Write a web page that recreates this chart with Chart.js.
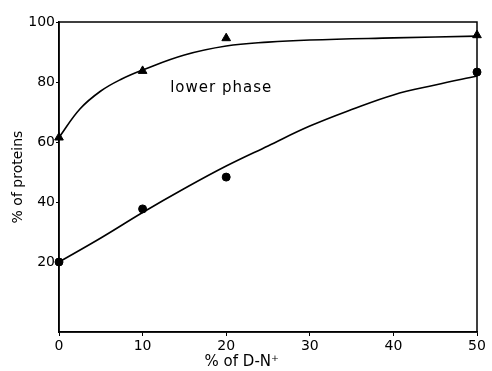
<!DOCTYPE html>
<html lang="en">

<head>
  <meta charset="UTF-8">
  <title>% of proteins vs % of D-N+</title>
  <script src="https://cdn.jsdelivr.net/npm/chart.js"></script>
  <style>
    body { margin: 0; background: #fff; }
    #wrap { width: 492px; height: 371px; }
  </style>
</head>

<body>
  <div id="wrap"><canvas id="phaseChart" width="492" height="371"></canvas></div>

  <script>
    // measured points
    const dnPercent = [0, 10, 20, 50];
    const triangleValues = [61.5, 83.7, 94.6, 95.6];
    const circleValues = [20, 37.7, 48.3, 83.3];

    // hand-drawn fitted curves
    const curveX = [0, 2.5, 5, 7.5, 10, 15, 20, 25, 30, 40, 50];
    const upperCurve = [61.5, 71, 77, 81, 84, 89, 92, 93.3, 94, 94.7, 95.3];
    const lowerCurveX = [0, 5, 10, 15, 20, 25, 30, 35, 40, 45, 50];
    const lowerCurve = [20, 28, 36.5, 44.5, 52, 58.7, 65.3, 70.8, 75.7, 79, 82];

    const yTicks = [20, 40, 60, 80, 100];
    const phaseLabel = 'lower phase';

    const font = { family: 'DejaVu Sans', size: 14 };

    const pairs = (xs, ys) => xs.map((x, i) => ({ x: x, y: ys[i] }));

    // frame around the plot + the in-plot label
    const framePlugin = {
      id: 'frame',
      afterDraw(chart) {
        const { ctx, chartArea: a, scales } = chart;
        ctx.save();
        ctx.strokeStyle = '#000';
        ctx.lineWidth = 1.5;
        ctx.strokeRect(a.left, a.top, a.right - a.left, a.bottom - a.top);
        ctx.fillStyle = '#000';
        ctx.font = '15px "DejaVu Sans"';
        ctx.letterSpacing = '1px';
        ctx.textBaseline = 'middle';
        ctx.fillText(phaseLabel, scales.x.getPixelForValue(13.3), scales.y.getPixelForValue(78));
        ctx.restore();
      }
    };

    new Chart(document.getElementById('phaseChart'), {
      type: 'scatter',
      data: {
        datasets: [
          {
            type: 'line',
            data: pairs(curveX, upperCurve),
            borderColor: '#000',
            borderWidth: 1.6,
            pointRadius: 0,
            tension: 0.4,
            fill: false
          },
          {
            type: 'line',
            data: pairs(lowerCurveX, lowerCurve),
            borderColor: '#000',
            borderWidth: 1.6,
            pointRadius: 0,
            tension: 0.4,
            fill: false
          },
          {
            data: pairs(dnPercent, triangleValues),
            pointStyle: 'triangle',
            pointRadius: 5,
            backgroundColor: '#000',
            borderColor: '#000'
          },
          {
            data: pairs(dnPercent, circleValues),
            pointStyle: 'circle',
            pointRadius: 4,
            backgroundColor: '#000',
            borderColor: '#000'
          }
        ]
      },
      options: {
        responsive: false,
        animation: false,
        clip: false,
        layout: { padding: { left: 0, top: 22, right: 15, bottom: 0 } },
        plugins: { legend: { display: false }, tooltip: { enabled: false } },
        scales: {
          x: {
            min: 0,
            max: 50,
            ticks: { stepSize: 10, color: '#000', font: font, padding: 2, maxRotation: 0 },
            grid: { drawOnChartArea: false, drawTicks: true, tickLength: 4, color: '#000' },
            border: { color: '#000', width: 1.5 },
            title: {
              display: true,
              text: '% of D-N\u207A           ',
              color: '#000',
              font: { family: 'DejaVu Sans', size: 15 },
              padding: { top: 0, bottom: 0 }
            },
            afterFit(scale) { scale.height = 39; }
          },
          y: {
            min: -3.33,
            max: 100,
            afterBuildTicks(scale) { scale.ticks = yTicks.map(v => ({ value: v })); },
            ticks: { color: '#000', font: font, padding: 1 },
            grid: { drawOnChartArea: false, drawTicks: true, tickLength: 3, color: '#000' },
            border: { color: '#000', width: 1.5 },
            title: {
              display: true,
              text: '% of proteins',
              color: '#000',
              font: { family: 'DejaVu Sans', size: 14 },
              padding: { top: 10, bottom: 4 }
            },
            afterFit(scale) { scale.width = 59; }
          }
        }
      },
      plugins: [framePlugin]
    });
  </script>
</body>

</html>
